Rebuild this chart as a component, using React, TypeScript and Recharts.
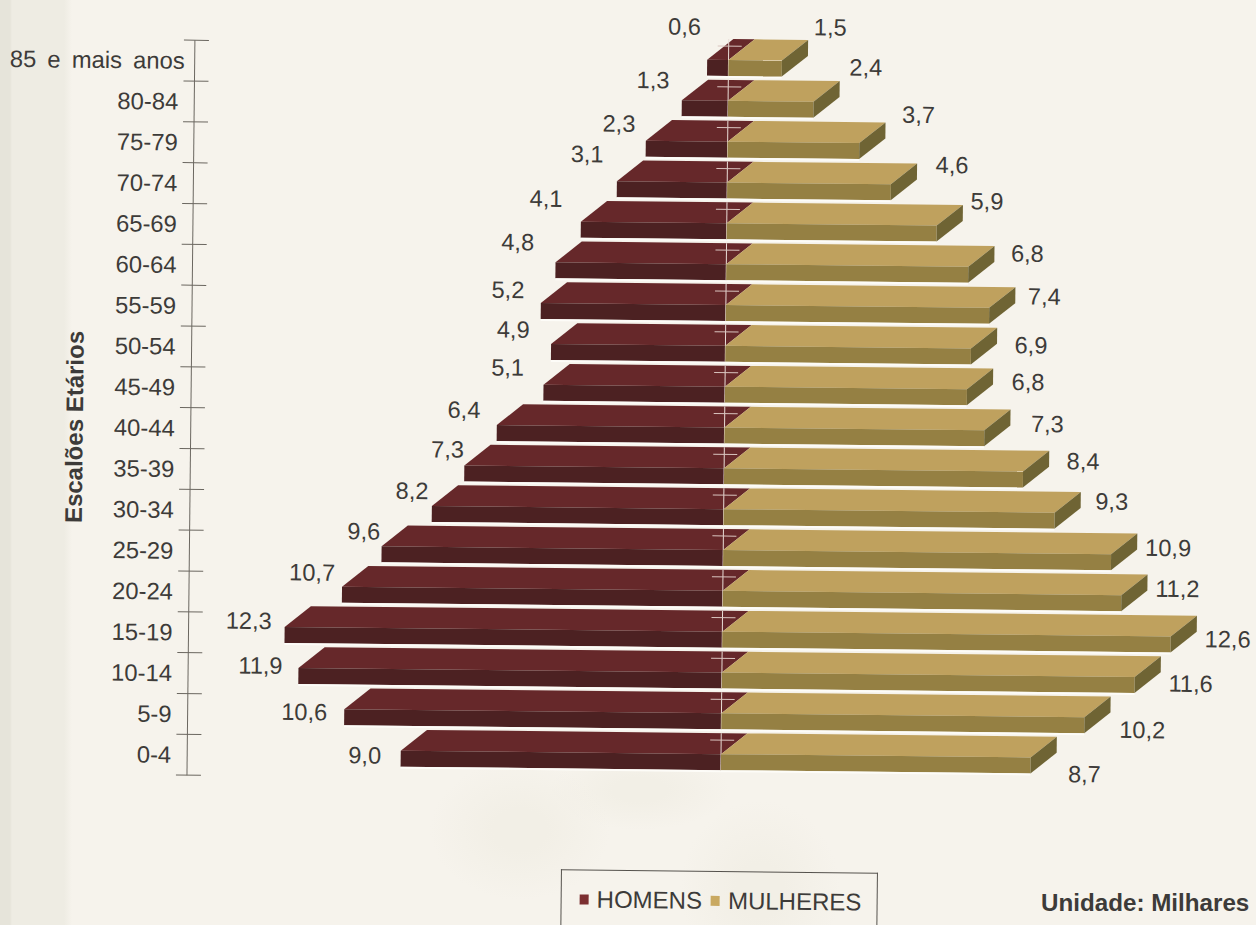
import { BarChart, Bar, XAxis, YAxis, Legend, LabelList } from 'recharts';

const ageGroups = [
  '85 e mais anos', '80-84', '75-79', '70-74', '65-69', '60-64', '55-59', '50-54', '45-49',
  '40-44', '35-39', '30-34', '25-29', '20-24', '15-19', '10-14', '5-9', '0-4',
];
const homens = [0.6, 1.3, 2.3, 3.1, 4.1, 4.8, 5.2, 4.9, 5.1, 6.4, 7.3, 8.2, 9.6, 10.7, 12.3, 11.9, 10.6, 9.0];
const mulheres = [1.5, 2.4, 3.7, 4.6, 5.9, 6.8, 7.4, 6.9, 6.8, 7.3, 8.4, 9.3, 10.9, 11.2, 12.6, 11.6, 10.2, 8.7];

// hand placed value labels in the original: offset from the outer end of each bar
const homensLabelDx = [-23, -29, -27, -30, -35, -38, -33, -38, -36, -33, -17, -20, -18, -30, -36, -38, -40, -36];
const homensLabelDy = [-41, -28, -25, -35, -31, -28, -21, -22, -25, -23, -24, -23, -23, -22, -14, -10, -5, -3];
const mulheresLabelDx = [48, 52, 59, 61, 50, 59, 55, 60, 61, 63, 60, 57, 57, 56, 57, 56, 58, 54];
const mulheresLabelDy = [-42, -43, -37, -28, -33, -22, -20, -12, -16, -15, -19, -20, -15, -15, -6, -2, 4, 8];

const rows = ageGroups.map((age, i) => ({ age, homens: -homens[i], mulheres: mulheres[i] }));

const FONT = '"Liberation Sans", Arial, sans-serif';
const TEXT = '#3d3b39';
const DEPTH_X = 26;
const DEPTH_Y = 21;
const SHIFT_Y = 2;
const BAND = 735 / ageGroups.length;

const formatValue = (v: number) => Math.abs(v).toFixed(1).replace('.', ',');

function HomensBar({ x, y, width, height }: any) {
  const left = Math.min(x, x + width);
  const right = Math.max(x, x + width);
  const top = y + SHIFT_Y;
  return (
    <g>
      <path
        d={`M${left},${top} L${left + DEPTH_X},${top - DEPTH_Y} L${right + DEPTH_X},${top - DEPTH_Y} L${right},${top} Z`}
        fill="#66282a"
      />
      <rect x={left} y={top} width={right - left} height={height} fill="#4c2122" />
      <rect x={left} y={top + height} width={right - left} height={2} fill="#fdfcf8" />
      <line x1={right} x2={right} y1={top - DEPTH_Y} y2={top + height} stroke="#e9dcd6" strokeWidth={1} />
      <line x1={right - 11} x2={right + 13} y1={top - 14} y2={top - 14} stroke="#d9c4bf" strokeWidth={1} />
    </g>
  );
}

function MulheresBar({ x, y, width, height }: any) {
  const left = Math.min(x, x + width);
  const right = Math.max(x, x + width);
  const top = y + SHIFT_Y;
  return (
    <g>
      <path
        d={`M${left},${top} L${left + DEPTH_X},${top - DEPTH_Y} L${right + DEPTH_X},${top - DEPTH_Y} L${right},${top} Z`}
        fill="#bfa15e"
      />
      <rect x={left} y={top} width={right - left} height={height} fill="#958043" />
      <path
        d={`M${right},${top} L${right + DEPTH_X},${top - DEPTH_Y} L${right + DEPTH_X},${top - DEPTH_Y + height} L${right},${top + height} Z`}
        fill="#6f6434"
      />
      <rect x={left} y={top + height} width={right - left} height={2} fill="#fdfcf8" />
    </g>
  );
}

function AgeTick({ x, y, payload, index }: any) {
  const isFirst = index === 0;
  return (
    <g>
      <line x1={x - 11} x2={x + 14} y1={y - BAND / 2} y2={y - BAND / 2} stroke="#6b6760" />
      {index === ageGroups.length - 1 && (
        <line x1={x - 11} x2={x + 14} y1={y + BAND / 2} y2={y + BAND / 2} stroke="#6b6760" />
      )}
      <text
        x={isFirst ? x - 10 : x - 16}
        y={y}
        dy="0.35em"
        textAnchor="end"
        fontFamily={FONT}
        fontSize={23.8}
        fill={TEXT}
        wordSpacing={isFirst ? 4.5 : 0}
      >
        {payload.value}
      </text>
    </g>
  );
}

const valueLabel = (dxs: number[], dys: number[], outerIsLeft: boolean) => (props: any) => {
  const { x, y, width, height, value, index } = props;
  const left = Math.min(x, x + width);
  const right = Math.max(x, x + width);
  return (
    <text
      x={(outerIsLeft ? left : right) + dxs[index]}
      y={y + SHIFT_Y + height / 2 + dys[index]}
      dy="0.35em"
      textAnchor="middle"
      fontFamily={FONT}
      fontSize={23.6}
      fill={TEXT}
    >
      {formatValue(value)}
    </text>
  );
};

function LegendBox({ payload }: any) {
  return (
    <div
      style={{
        boxSizing: 'border-box',
        width: 317,
        height: 60,
        border: '1px solid #55524d',
        borderBottom: 'none',
        fontFamily: FONT,
        fontSize: 24,
        color: TEXT,
        display: 'flex',
        alignItems: 'center',
        paddingLeft: 18,
        paddingBottom: 2,
      }}
    >
      {(payload || []).map((item: any) => (
        <span key={item.value} style={{ display: 'flex', alignItems: 'center', marginRight: 9 }}>
          <span style={{ width: 9, height: 10, background: item.color, marginRight: 8, display: 'inline-block' }} />
          {item.value}
        </span>
      ))}
    </div>
  );
}

export default function App() {
  return (
    <div
      style={{
        position: 'absolute',
        left: 0,
        top: 0,
        width: 1256,
        height: 925,
        overflow: 'hidden',
        background: '#f6f3ec',
      }}
    >
      {/* faint map printed behind the chart */}
      <div
        style={{
          position: 'absolute',
          inset: 0,
          background:
            'radial-gradient(ellipse 90px 70px at 520px 830px, #f2efe6 30%, transparent 100%),' +
            'radial-gradient(ellipse 90px 40px at 640px 790px, #f2efe6 30%, transparent 100%),' +
            'radial-gradient(ellipse 80px 90px at 760px 890px, #f2efe6 30%, transparent 100%)',
        }}
      />
      {/* scanned page edge */}
      <div
        style={{
          position: 'absolute',
          left: 0,
          top: 0,
          width: 72,
          height: 925,
          background: 'linear-gradient(to right, #e6e4da 0, #e6e4da 10px, #eeece3 12px, #eeece3 64px, #f6f3ec 72px)',
        }}
      />
      {/* the scan sits slightly crooked */}
      <div style={{ position: 'absolute', left: 0, top: 0, transform: 'rotate(0.62deg)', transformOrigin: '725px 405px' }}>
        <BarChart
          width={1256}
          height={925}
          data={rows}
          layout="vertical"
          stackOffset="sign"
          barSize={16}
          margin={{ top: 46, right: 33, bottom: 144, left: 10 }}
        >
          <XAxis type="number" domain={[-15, 14]} allowDataOverflow hide />
          <YAxis
            type="category"
            dataKey="age"
            width={181}
            interval={0}
            tickLine={false}
            tickSize={0}
            tickMargin={0}
            tick={AgeTick}
            axisLine={{ stroke: '#6b6760' }}
            label={{
              content: () => (
                <text
                  x={83}
                  y={434}
                  transform="rotate(-90 83 434)"
                  textAnchor="middle"
                  fontFamily={FONT}
                  fontSize={24}
                  fontWeight="bold"
                  fill={TEXT}
                >
                  Escalões Etários
                </text>
              ),
            }}
          />
          <Legend
            layout="vertical"
            align="center"
            verticalAlign="middle"
            content={LegendBox}
            wrapperStyle={{ left: 566, top: 871, width: 317, height: 60 }}
          />
          <Bar dataKey="homens" name="HOMENS" stackId="a" fill="#7c2f31" shape={HomensBar} isAnimationActive={false}>
            <LabelList dataKey="homens" content={valueLabel(homensLabelDx, homensLabelDy, true)} />
          </Bar>
          <Bar dataKey="mulheres" name="MULHERES" stackId="a" fill="#c9a961" shape={MulheresBar} isAnimationActive={false}>
            <LabelList dataKey="mulheres" content={valueLabel(mulheresLabelDx, mulheresLabelDy, false)} />
          </Bar>
        </BarChart>
      </div>
      <div
        style={{
          position: 'absolute',
          left: 1041,
          top: 889,
          fontFamily: FONT,
          fontSize: 24.2,
          fontWeight: 'bold',
          color: TEXT,
          whiteSpace: 'nowrap',
        }}
      >
        Unidade: Milhares
      </div>
    </div>
  );
}
